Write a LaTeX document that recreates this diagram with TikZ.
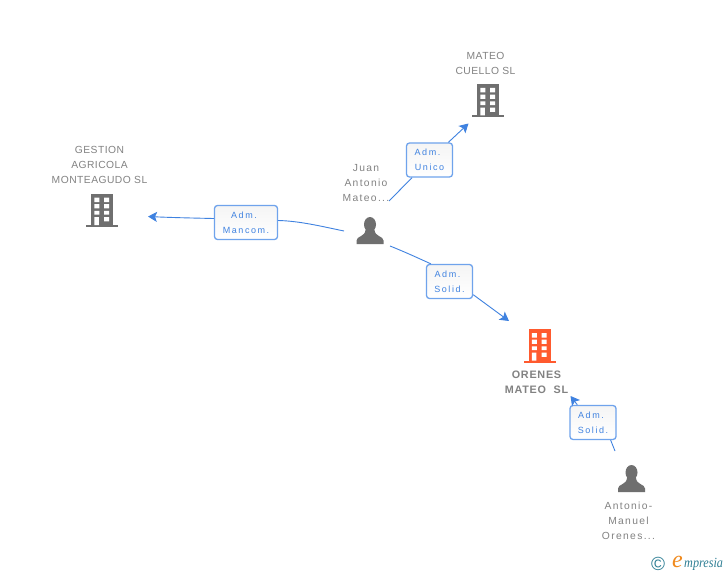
\documentclass[tikz,border=0pt]{standalone}
\usepackage{fontspec}
\setmainfont{Liberation Sans}
\newfontfamily\spacedup[LetterSpace=4.5]{Liberation Sans}
\newfontfamily\spacedlow[LetterSpace=13]{Liberation Sans}
\newfontfamily\spacedrole[LetterSpace=17]{Liberation Sans}
\newfontfamily\spacedb[LetterSpace=7]{Liberation Sans}
\newfontfamily\logofont{Liberation Serif}
\usetikzlibrary{arrows.meta}
\definecolor{icongrey}{HTML}{6F6F6F}
\definecolor{textgrey}{HTML}{828282}
\definecolor{linkblue}{HTML}{3F82E0}
\definecolor{boxblue}{HTML}{6FA3EC}
\definecolor{accent}{HTML}{FF5A2E}
\definecolor{logoteal}{HTML}{2F7F95}
\definecolor{logoorange}{HTML}{F08A1E}
\tikzset{
  upperlabel/.style={text=textgrey,font=\spacedup\fontsize{10.3}{15}\selectfont,align=center,inner sep=0pt},
  lowerlabel/.style={text=textgrey,font=\spacedlow\fontsize{10.3}{15}\selectfont,align=center,inner sep=0pt},
  mainlabel/.style={text=textgrey,font=\spacedb\bfseries\fontsize{10.8}{15}\selectfont,align=center,inner sep=0pt},
  rolebox/.style={draw=boxblue,line width=1.3pt,rounded corners=3pt,top color=white!96!black,bottom color=white,
    text=linkblue,font=\spacedrole\fontsize{9}{15}\selectfont,align=center,inner sep=0pt},
  conn/.style={draw=linkblue,line width=0.9pt,-{Stealth[length=9pt,width=10pt,inset=2pt]}},
  connplain/.style={draw=linkblue,line width=0.9pt},
  pics/building/.style={code={
    \fill[#1] (-11,0) rectangle (11,31.5);
    \fill[#1] (-16,31.5) rectangle (16,33.5);
    \fill[white] (-7.7,4) rectangle (-2.7,8.5) (2,4) rectangle (7,8.5)
      (-7.7,10.7) rectangle (-2.7,14.8) (2,10.7) rectangle (7,14.8)
      (-7.7,17.3) rectangle (-2.7,21.2) (2,17.3) rectangle (7,21.2)
      (-7.7,23.7) rectangle (-3.2,31.5) (2,23.7) rectangle (7,27.8);
  }},
  pics/person/.style={code={
    \fill[icongrey] (0,7.5) ellipse (6 and 7.5);
    \fill[icongrey] (-13.5,27) -- (-13.5,23.5) .. controls (-13.5,19) and (-5,20) .. (-4.5,13)
      -- (4.5,13) .. controls (5,20) and (13.5,19) .. (13.5,23.5) -- (13.5,27) -- cycle;
  }}
}
\begin{document}
\begin{tikzpicture}[x=1pt,y=-1pt]
\useasboundingbox[fill=white] (0,0) rectangle (728,575);
% icons
\pic at (488,84) {building=icongrey};
\pic at (102,193.5) {building=icongrey};
\pic at (539.5,329) {building=accent};
\pic at (370,217) {person};
\pic at (631.5,465) {person};
% names
\node[upperlabel] (cuello) at (485.5,63) {MATEO\\CUELLO SL};
\node[upperlabel] (gestion) at (99.5,164.7) {GESTION\\AGRICOLA\\MONTEAGUDO SL};
\node[lowerlabel] (juan) at (366,183) {Juan\\Antonio\\Mateo...};
\node[lowerlabel] (antonio) at (628.5,520.5) {Antonio-\\Manuel\\Orenes...};
\node[mainlabel] (orenes) at (536.5,382.7) {ORENES\\MATEO\ \ SL};
% connector ends
\coordinate (juanU) at (389,201);
\coordinate (tipU) at (468.5,123.5);
\coordinate (juanM) at (344,231);
\coordinate (tipM) at (148,216.5);
\coordinate (juanS) at (390,246);
\coordinate (tipS) at (509,321);
\coordinate (antS) at (615,451);
\coordinate (tipA) at (570.5,396);
% role boxes
\node[rolebox,minimum width=46pt,minimum height=34pt] (boxU) at (429.5,160) {Adm.\hspace*{4pt}\\Unico};
\node[rolebox,minimum width=63pt,minimum height=34pt] (boxM) at (246,222.5) {Adm.\hspace*{4pt}\\Mancom.};
\node[rolebox,minimum width=46pt,minimum height=34pt] (boxS) at (449.5,281.5) {Adm.\hspace*{4pt}\\Solid.};
\node[rolebox,minimum width=46pt,minimum height=34pt] (boxA) at (593,422.5) {Adm.\hspace*{4pt}\\Solid.};
% connectors
\draw[connplain] (juanU) -- (boxU);
\draw[conn] (boxU) -- (tipU);
\draw[connplain] (juanM) .. controls (322,226.5) and (300,221) .. ([yshift=2pt]boxM.east);
\draw[conn] ([yshift=4pt]boxM.west) .. controls (190,218) and (170,217.5) .. (tipM);
\draw[connplain] (juanS) .. controls (405,252) and (418,258) .. ([xshift=5pt]boxS.north west);
\draw[conn] ([yshift=4.5pt]boxS.south east) -- (tipS);
\draw[connplain] (antS) -- ([xshift=-6pt]boxA.south east);
\draw[conn] ([xshift=8pt]boxA.north west) -- (tipA);
% logo
\node[text=logoteal,font=\fontsize{19}{19}\selectfont,inner sep=0pt] (copy) at (658,564) {©};
\node[text=logoorange,font=\logofont\itshape\fontsize{24}{24}\selectfont,inner sep=0pt] (logoe) at (677.5,562) {e};
\node[text=logoteal,font=\logofont\itshape\fontsize{14}{14}\selectfont,inner sep=0pt,anchor=west] (logot) at (684,564.5) {\scalebox{0.87}[1]{mpresia}};
\end{tikzpicture}
\end{document}
